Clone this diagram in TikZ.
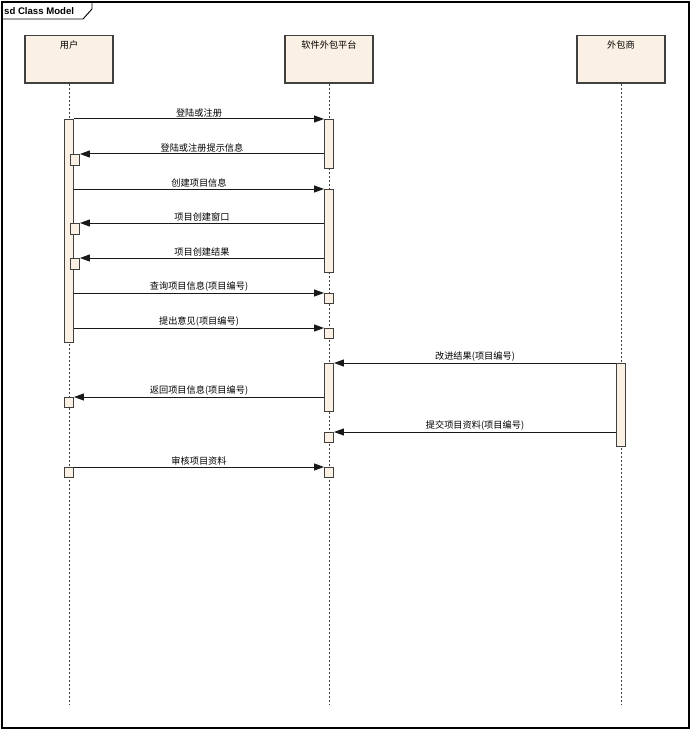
\documentclass[tikz,border=0pt]{standalone}
\usepackage{fontspec}
\setmainfont{Liberation Sans}
\newfontfamily\cjk{Noto Sans CJK SC}
\usetikzlibrary{arrows.meta,positioning}
\definecolor{lifefill}{HTML}{FBF0E4}
\definecolor{lifeedge}{HTML}{404040}

\begin{document}
\begin{tikzpicture}[
    x=1pt, y=-1pt,
    head/.style={draw=lifeedge, fill=lifefill, line width=1.1pt, minimum width=88pt, anchor=north, inner ysep=4.5pt, text height=8pt, text depth=30.5pt, font=\cjk\fontsize{9.2}{10}\selectfont},
    bar/.style={draw=lifeedge, fill=lifefill, line width=0.9pt, minimum width=9pt, inner sep=0pt, anchor=north},
    nest/.style={bar, minimum height=11pt, anchor=north west},
    lifeline/.style={draw=black!75, line width=1pt, dash pattern=on 2pt off 2pt},
    msg/.style={draw=black!90, line width=1pt, -{Triangle[length=10pt,width=7pt]}},
    lbl/.style={midway, above, inner sep=1.5pt, font=\cjk\fontsize{9.2}{10}\selectfont}
]
\useasboundingbox (0,0) rectangle (692,730);
\fill[white] (0,0) rectangle (692,730);

% frame and tab
\draw[line width=1.3pt] (2,2) rectangle (689,728);
\draw[line width=0.9pt] (2,19) -- (83,19) -- (92,9) -- (92,2);
\node[anchor=west, inner sep=0pt, font=\bfseries\fontsize{9.6}{10}\selectfont] (title) at (4,11) {sd Class Model};

% heads
\node[head] (user) at (69,35) {用户};
\node[head] (platform) at (329,35) {软件外包平台};
\node[head] (vendor) at (621,35) {外包商};

% lifelines
\coordinate (userend) at (69,705);
\coordinate (platformend) at (329,705);
\coordinate (vendorend) at (621,705);
\draw[lifeline] (user) -- (userend);
\draw[lifeline] (platform) -- (platformend);
\draw[lifeline] (vendor) -- (vendorend);

% activations
\node[bar, minimum height=223pt] (u1) at (69,119) {};
\node[nest] (ub1) at (70,154) {};
\node[nest] (ub2) at (70,223) {};
\node[nest] (ub3) at (70,258) {};
\node[bar, minimum height=10pt] (ub4) at (69,397) {};
\node[bar, minimum height=10pt] (ub5) at (69,467) {};

\node[bar, minimum height=49pt] (p1) at (329,119) {};
\node[bar, minimum height=83pt] (p2) at (329,189) {};
\node[bar, minimum height=10pt] (pb1) at (329,293) {};
\node[bar, minimum height=10pt] (pb2) at (329,328) {};
\node[bar, minimum height=48pt] (p3) at (329,363) {};
\node[bar, minimum height=10pt] (pb3) at (329,432) {};
\node[bar, minimum height=10pt] (pb4) at (329,467) {};

\node[bar, minimum height=83pt] (v1) at (621,363) {};

% messages
\draw[msg] (u1.east |- p1.north) -- node[lbl]{登陆或注册} (p1.north west);
\draw[msg] (p1.west |- ub1.north) -- node[lbl]{登陆或注册提示信息} (ub1.north east);
\draw[msg] (u1.east |- p2.north) -- node[lbl]{创建项目信息} (p2.north west);
\draw[msg] (p2.west |- ub2.north) -- node[lbl]{项目创建窗口} (ub2.north east);
\draw[msg] (p2.west |- ub3.north) -- node[lbl]{项目创建结果} (ub3.north east);
\draw[msg] (u1.east |- pb1.north) -- node[lbl]{查询项目信息(项目编号)} (pb1.north west);
\draw[msg] (u1.east |- pb2.north) -- node[lbl]{提出意见(项目编号)} (pb2.north west);
\draw[msg] (v1.north west) -- node[lbl]{改进结果(项目编号)} (p3.north east);
\draw[msg] (p3.west |- ub4.north) -- node[lbl]{返回项目信息(项目编号)} (ub4.north east);
\draw[msg] (v1.west |- pb3.north) -- node[lbl]{提交项目资料(项目编号)} (pb3.north east);
\draw[msg] (ub5.north east) -- node[lbl]{审核项目资料} (pb4.north west);
\end{tikzpicture}
\end{document}
